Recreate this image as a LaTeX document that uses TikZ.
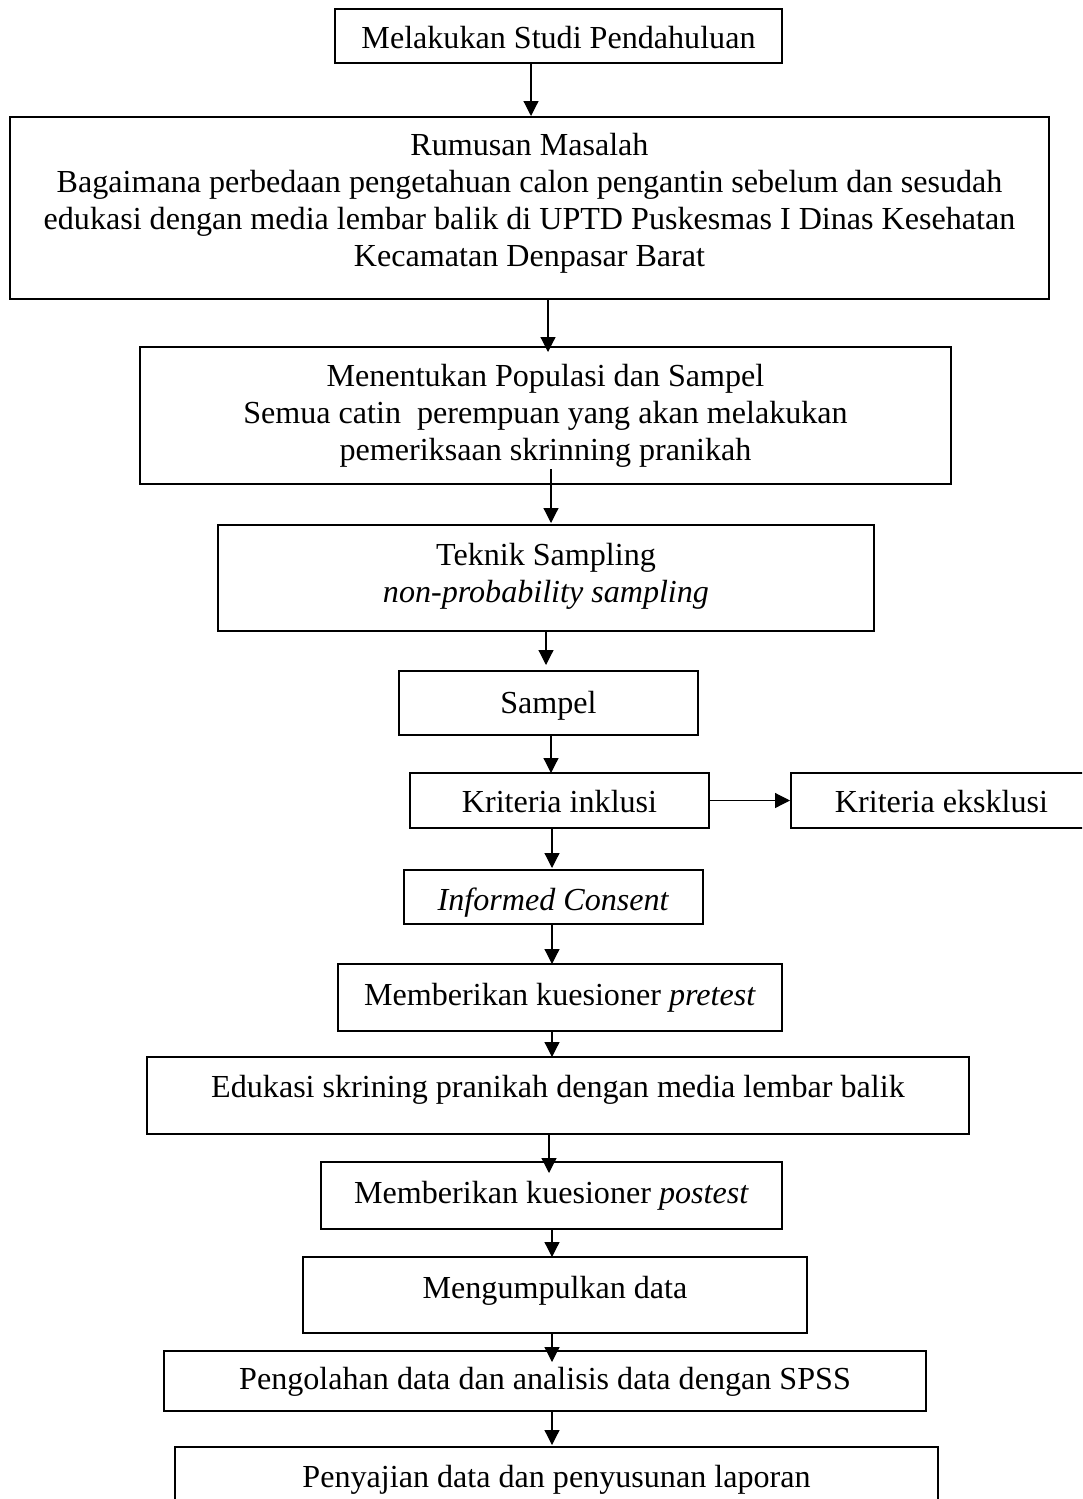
\documentclass[tikz,border=0pt]{standalone}
\usepackage{fontspec}
\setmainfont{Liberation Serif}
\usetikzlibrary{arrows.meta}
\tikzset{
  box/.style={draw=black, line width=1.7pt, rectangle, inner sep=0pt, outer sep=0pt, anchor=north west},
  arr/.style={draw=black, line width=1.2pt, -{Triangle[length=15pt,width=15pt]}},
  txt/.style={inner sep=0pt, outer sep=0pt, align=center, font=\fontsize{32.1}{37}\selectfont},
}
\newcommand{\bx}[5]{\node[box, minimum width=#4pt-#2pt, minimum height=#5pt-#3pt] (#1) at (#2,#3) {};}
\begin{document}
\begin{tikzpicture}[x=1pt,y=-1pt]
\path[fill=white] (0,0) rectangle (1082,1499);
\useasboundingbox (0,0) rectangle (1082,1499);
\clip (0,0) rectangle (1082,1499);
% boxes
\bx{b1}{335}{9}{782}{63}
\bx{b2}{10}{117}{1049}{299}
\bx{b3}{140}{347}{951}{484}
\bx{b4}{218}{525}{874}{631}
\bx{b5}{399}{671}{698}{735}
\bx{b6}{410}{773}{709}{828}
\bx{b7}{791}{773}{1095}{828}
\bx{b8}{404}{870}{703}{924}
\bx{b9}{338}{964}{782}{1031}
\bx{b10}{147}{1057}{969}{1134}
\bx{b11}{321}{1162}{782}{1229}
\bx{b12}{303}{1257}{807}{1333}
\bx{b13}{164}{1351}{926}{1411}
\bx{b14}{175}{1447}{938}{1525}
% texts
\node[txt, anchor=base] (t1) at (558.5,48) {Melakukan Studi Pendahuluan};
\node[txt, anchor=north] (t2) at (529.5,133) {Rumusan Masalah\\Bagaimana perbedaan pengetahuan calon pengantin sebelum dan sesudah\\edukasi dengan media lembar balik di UPTD Puskesmas I Dinas Kesehatan\\Kecamatan Denpasar Barat};
\node[txt, anchor=north] (t3) at (545.5,364) {Menentukan Populasi dan Sampel\\Semua catin~ perempuan yang akan melakukan\\pemeriksaan skrinning pranikah};
\node[txt, anchor=north] (t4) at (546,543) {Teknik Sampling\\\textit{non-probability sampling}};
\node[txt, anchor=base] (t5) at (548.5,713) {Sampel};
\node[txt, anchor=base] (t6) at (559.5,812) {Kriteria inklusi};
\node[txt, anchor=base] (t7) at (941.5,812) {Kriteria eksklusi};
\node[txt, anchor=base] (t8) at (553.5,910) {\textit{Informed Consent}};
\node[txt, anchor=base] (t9) at (560,1005) {Memberikan kuesioner \textit{pretest}};
\node[txt, anchor=base] (t10) at (558,1097) {Edukasi skrining pranikah dengan media lembar balik};
\node[txt, anchor=base] (t11) at (551.5,1203) {Memberikan kuesioner \textit{postest}};
\node[txt, anchor=base] (t12) at (555,1298) {Mengumpulkan data};
\node[txt, anchor=base] (t13) at (545,1389) {Pengolahan data dan analisis data dengan SPSS};
\node[txt, anchor=base] (t14) at (556.5,1487) {Penyajian data dan penyusunan laporan};
% connectors
\draw[arr] (b1.south -| 531,0) -- ([yshift=1pt]b2.north -| 531,0);
\draw[arr] (b2.south -| 548,0) -- ([yshift=-5pt]b3.north -| 548,0);
\draw[arr] ([yshift=15pt]b3.south -| 551,0) -- ([yshift=2pt]b4.north -| 551,0);
\draw[arr] (b4.south -| 546,0) -- ([yshift=6pt]b5.north -| 546,0);
\draw[arr] (b5.south -| 551,0) -- (b6.north -| 551,0);
\draw[arr] (b6.south -| 552,0) -- ([yshift=2pt]b8.north -| 552,0);
\draw[arr] (b8.south -| 552,0) -- (b9.north -| 552,0);
\draw[arr] (b9.south -| 552,0) -- (b10.north -| 552,0);
\draw[arr] (b10.south -| 549,0) -- ([yshift=-11pt]b11.north -| 549,0);
\draw[arr] (b11.south -| 552,0) -- (b12.north -| 552,0);
\draw[arr] (b12.south -| 552,0) -- ([yshift=-11pt]b13.north -| 552,0);
\draw[arr] (b13.south -| 552,0) -- ([yshift=2pt]b14.north -| 552,0);
\draw[arr] (b6.east) -- ([xshift=-1pt]b7.west);
\end{tikzpicture}
\end{document}
